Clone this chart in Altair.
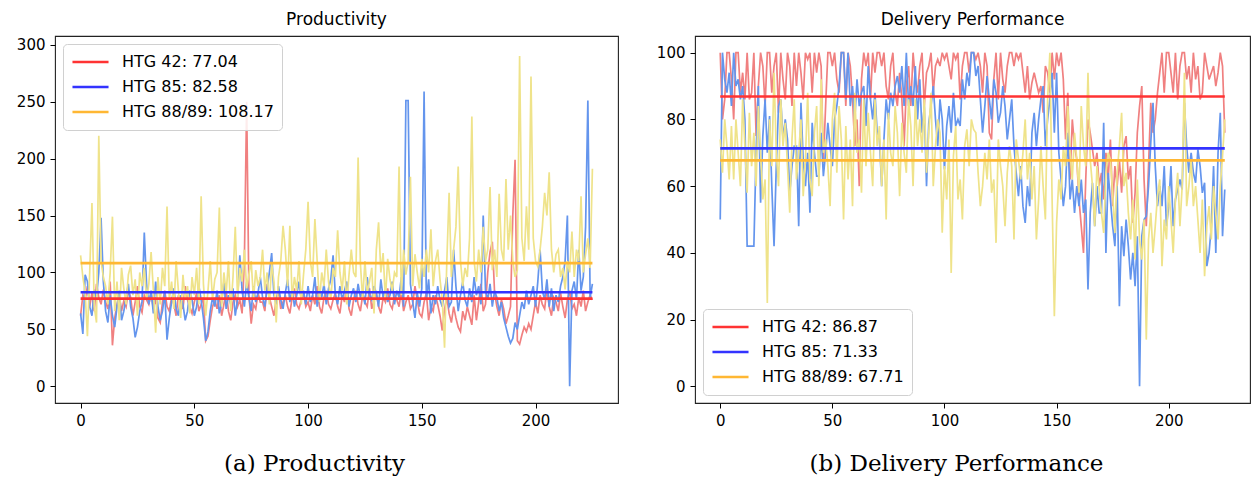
import altair as alt
import pandas as pd

# ---------------- data ----------------
x_ticks = [0, 50, 100, 150, 200]
prod_ticks = [0, 50, 100, 150, 200, 250, 300]
deliv_ticks = [0, 20, 40, 60, 80, 100]

series_names = ["HTG 42", "HTG 85", "HTG 88/89"]
prod_means = [77.04, 82.58, 108.17]
deliv_means = [86.87, 71.33, 67.71]

prod_htg42 = [
    62, 80, 76, 88, 70, 82, 66, 90, 78, 72,
    85, 74, 68, 92, 36, 60, 72, 80, 66, 75,
    70, 84, 78, 62, 74, 88, 70, 65, 80, 76,
    72, 82, 68, 78, 60, 56, 74, 84, 70, 66,
    78, 72, 62, 80, 74, 68, 88, 76, 70, 64,
    74, 82, 66, 72, 78, 40, 44, 58, 70, 76,
    68, 80, 62, 72, 84, 66, 58, 74, 80, 70,
    76, 64, 110, 250, 80, 55, 72, 68, 82, 74,
    74, 66, 90, 78, 70, 62, 76, 84, 68, 74,
    80, 70, 64, 78, 86, 72, 68, 76, 82, 70,
    74, 66, 80, 72, 88, 70, 64, 78, 84, 72,
    68, 76, 82, 70, 64, 80, 74, 90, 68, 62,
    76, 84, 72, 66, 80, 74, 70, 86, 68, 76,
    82, 70, 64, 78, 74, 86, 72, 68, 80, 76,
    70, 84, 66, 74, 80, 68, 72, 88, 76, 64,
    61, 74, 82, 58, 70, 66, 80, 72, 62, 49,
    68, 78, 64, 56, 70, 60, 52, 48, 66, 58,
    70, 62, 54, 80, 58, 74, 90, 66, 72, 100,
    118, 127, 82, 70, 62, 76, 68, 55, 62, 70,
    150, 199, 40, 37, 45, 52, 48, 55, 50, 62,
    74, 64, 80, 72, 68, 86, 70, 62, 78, 74,
    66, 82, 70, 60, 76, 84, 68, 72, 62, 78,
    70, 84, 66, 74, 80, 76,
]
prod_htg85 = [
    64, 46, 98, 92, 70, 62, 85, 78, 100, 148,
    92, 66, 56, 80, 62, 52, 70, 84, 58, 66,
    78, 90, 70, 60, 43, 52, 66, 74, 135, 90,
    72, 84, 64, 92, 70, 58, 66, 82, 41, 60,
    74, 86, 68, 62, 80, 72, 58, 66, 84, 76,
    62, 70, 88, 76, 60, 40, 48, 66, 78, 70,
    84, 64, 74, 92, 68, 80, 72, 86, 62, 76,
    115, 84, 70, 92, 78, 66, 88, 74, 82, 96,
    78, 70, 86, 100, 117, 80, 72, 88, 76, 68,
    82, 94, 74, 86, 70, 80, 92, 76, 84, 72,
    88, 74, 80, 96, 70, 84, 78, 90, 72, 86,
    94, 115, 80, 72, 88, 76, 84, 92, 70, 80,
    86, 74, 90, 78, 84, 72, 96, 80, 76, 88,
    82, 70, 94, 78, 86, 74, 80, 92, 72, 84,
    78, 96, 70, 251, 251, 90, 74, 60, 82, 70,
    86, 259, 76, 94, 64, 80, 72, 88, 76, 70,
    84, 96, 70, 74, 120, 88, 66, 80, 92, 76,
    70, 86, 74, 96, 80, 88, 72, 150, 84, 76,
    90, 70, 84, 78, 66, 74, 60, 52, 44, 38,
    42, 56, 50, 62, 74, 68, 84, 72, 80, 88,
    70, 92, 120, 84, 76, 94, 70, 86, 66, 80,
    74, 88, 96, 110, 150, 0, 84, 92, 76, 120,
    84, 96, 140, 251, 78, 90,
]
prod_htg88 = [
    115, 96, 82, 44, 100, 161, 70, 56, 220, 110,
    96, 88, 72, 100, 149, 66, 92, 58, 104, 86,
    72, 98, 106, 80, 94, 62, 100, 88, 104, 76,
    90, 118, 84, 47, 96, 72, 104, 88, 158, 76,
    92, 68, 110, 84, 60, 98, 76, 88, 64, 96,
    80, 104, 72, 167, 90, 62, 84, 110, 76, 94,
    100, 157, 70, 100, 82, 110, 66, 96, 140, 78,
    104, 92, 120, 86, 98, 110, 76, 102, 88, 96,
    120, 84, 100, 72, 108, 92, 56, 96, 110, 141,
    120, 88, 141, 76, 96, 84, 110, 72, 98, 120,
    162, 110, 96, 147, 110, 74, 100, 88, 120, 92,
    76, 104, 96, 137, 100, 84, 110, 72, 98, 120,
    100, 96, 201, 108, 76, 110, 82, 92, 104, 64,
    120, 144, 100, 117, 76, 112, 94, 84, 100, 96,
    193, 80, 120, 98, 110, 184, 88, 116, 100, 86,
    112, 96, 120, 100, 138, 88, 110, 120, 94, 76,
    34, 110, 170, 96, 120, 140, 193, 110, 88, 104,
    96, 130, 237, 110, 92, 120, 100, 140, 110, 120,
    175, 102, 120, 96, 169, 120, 110, 182, 120, 150,
    110, 96, 102, 290, 130, 110, 158, 120, 272, 130,
    110, 105, 120, 140, 170, 150, 188, 120, 100, 116,
    120, 96, 104, 85, 110, 100, 136, 96, 120, 110,
    167, 100, 116, 130, 104, 191,
]

deliv_htg42 = [
    100, 80, 86, 100, 100, 92, 80, 100, 100, 88,
    94, 86, 100, 86, 88, 100, 75, 90, 100, 96,
    84, 100, 100, 88, 96, 100, 82, 100, 92, 86,
    100, 96, 84, 100, 90, 100, 94, 86, 100, 98,
    100, 88, 100, 94, 100, 96, 67, 84, 100, 100,
    96, 100, 92, 88, 100, 100, 84, 100, 96, 86,
    72, 80, 60, 92, 100, 96, 100, 86, 100, 94,
    100, 100, 96, 100, 90, 86, 96, 100, 88, 84,
    94, 86, 72, 90, 96, 84, 100, 92, 88, 96,
    100, 84, 94, 96, 100, 88, 96, 98, 96, 100,
    98, 100, 96, 92, 100, 98, 100, 86, 96, 100,
    100, 94, 100, 100, 98, 100, 96, 88, 100, 96,
    76, 74, 92, 100, 86, 100, 92, 88, 96, 100,
    100, 96, 100, 98, 100, 94, 88, 96, 86, 91,
    94, 91, 88, 90, 82, 96, 94, 88, 100, 92,
    100, 96, 100, 92, 74, 88, 62, 80, 72, 68,
    56, 48, 40, 62, 80, 76, 71, 66, 70, 60,
    64, 56, 70, 62, 74, 54, 66, 60, 68, 58,
    72, 75, 62, 66, 49, 58, 76, 84, 90, 62,
    48, 66, 85, 76, 80, 88, 94, 100, 88, 100,
    100, 94, 88, 100, 86, 96, 100, 100, 92, 96,
    88, 100, 92, 96, 86, 88, 100, 96, 92, 94,
    96, 90, 94, 100, 96, 76,
]
deliv_htg85 = [
    50, 100, 92, 88, 94, 84, 100, 90, 92, 86,
    90, 80, 42, 42, 42, 42, 70, 90, 55, 75,
    86, 70, 81, 60, 42, 66, 84, 86, 74, 80,
    74, 58, 66, 72, 72, 48, 85, 68, 60, 70,
    52, 79, 70, 63, 63, 76, 63, 70, 79, 72,
    66, 80, 84, 90, 100, 100, 86, 100, 84, 90,
    80, 92, 84, 88, 90, 78, 96, 86, 80, 88,
    76, 74, 60, 74, 86, 80, 88, 84, 90, 93,
    88, 96, 84, 100, 84, 90, 84, 96, 80, 92,
    76, 84, 60, 79, 84, 90, 80, 72, 86, 80,
    65, 78, 84, 76, 88, 78, 80, 78, 92, 86,
    94, 90, 100, 100, 93, 96, 86, 76, 84, 93,
    86, 80, 92, 88, 79, 82, 90, 84, 74, 80,
    86, 72, 64, 57, 66, 54, 49, 60, 54, 76,
    82, 72, 80, 86, 90, 72, 80, 86, 94, 76,
    94, 70, 62, 54, 60, 76, 56, 62, 52, 60,
    54, 62, 52, 56, 29, 52, 61, 48, 60, 52,
    52, 79, 40, 64, 56, 48, 42, 60, 24, 48,
    39, 50, 42, 32, 40, 30, 45, 0, 45, 50,
    51, 60, 73, 85, 66, 54, 60, 54, 66, 48,
    54, 66, 48, 56, 59, 62, 59, 85, 72, 64,
    70, 64, 61, 71, 66, 58, 61, 36, 40, 48,
    66, 40, 70, 82, 45, 59,
]
deliv_htg88 = [
    74, 64, 80, 72, 62, 78, 62, 80, 70, 60,
    86, 72, 58, 82, 66, 76, 60, 84, 70, 56,
    62, 25, 80, 66, 94, 70, 60, 86, 72, 79,
    66, 52, 74, 86, 62, 70, 80, 57, 68, 88,
    62, 57, 76, 84, 60, 92, 70, 74, 66, 54,
    80, 88, 64, 84, 74, 50, 78, 62, 74, 54,
    88, 70, 74, 58, 86, 66, 82, 70, 60, 86,
    72, 78, 60, 74, 50, 82, 70, 66, 84, 76,
    57, 79, 70, 64, 86, 78, 60, 86, 72, 80,
    70, 86, 64, 76, 88, 60, 72, 80, 76, 46,
    66, 56, 74, 34, 69, 78, 56, 62, 50, 72,
    77, 66, 80, 77, 76, 64, 54, 60, 70, 62,
    74, 58, 62, 43, 74, 66, 60, 48, 64, 72,
    66, 44, 74, 68, 62, 70, 80, 62, 70, 56,
    66, 44, 56, 72, 60, 50, 86, 100, 56, 21,
    49, 62, 56, 72, 66, 84, 70, 62, 76, 68,
    58, 84, 72, 66, 94, 68, 60, 48, 66, 59,
    52, 46, 64, 70, 68, 58, 46, 64, 72, 82,
    60, 64, 52, 44, 56, 38, 62, 44, 38, 50,
    14, 44, 52, 40, 48, 57, 62, 36, 50, 44,
    60, 50, 40, 56, 64, 48, 60, 94, 54, 60,
    68, 54, 60, 50, 40, 56, 33, 48, 54, 44,
    60, 52, 44, 60, 69, 80,
]

# ---------------- styling ----------------
LIGHT = ["#f08080", "#6495ed", "#efe38a"]
MEAN = ["#ff3333", "#3333ff", "#ffb733"]
FONT = "DejaVu Sans"
SERIF = "DejaVu Serif"


def panel(series, means, title, caption, y_domain, y_ticks, legend_orient,
          width, caption_x):
    n = len(series[0])
    x_dom = [-0.05 * (n - 1), (n - 1) * 1.05]

    def xenc(field):
        return alt.X(
            field, type="quantitative",
            scale=alt.Scale(domain=x_dom, nice=False, zero=False),
            axis=alt.Axis(values=x_ticks, title=caption, titleFont=SERIF,
                          titleFontSize=23, titleFontWeight="normal",
                          titleColor="#000", titlePadding=24,
                          titleX=caption_x),
        )

    yenc = alt.Y(
        "y:Q",
        scale=alt.Scale(domain=y_domain, nice=False, zero=False),
        axis=alt.Axis(values=y_ticks, title=None),
    )

    layers = []
    for vals, col in zip(series, LIGHT):
        df = pd.DataFrame({"x": list(range(len(vals))), "y": vals})
        layers.append(
            alt.Chart(df).mark_line(color=col, strokeWidth=1.7).encode(
                x=xenc("x"), y=yenc)
        )

    labels = [f"{nm}: {m:.2f}" for nm, m in zip(series_names, means)]
    mdf = pd.DataFrame({
        "label": labels,
        "y": means,
        "x0": [0] * 3,
        "x1": [n - 1] * 3,
    })
    mean_layer = alt.Chart(mdf).mark_rule(strokeWidth=2.6).encode(
        x=xenc("x0"),
        x2="x1:Q",
        y=yenc,
        color=alt.Color(
            "label:N",
            scale=alt.Scale(domain=labels, range=MEAN),
            legend=alt.Legend(
                title=None, orient=legend_orient, offset=8,
                fillColor="rgba(255,255,255,0.85)", strokeColor="#d0d0d0",
                cornerRadius=4, padding=8, symbolType="stroke",
                symbolSize=1300, symbolStrokeWidth=2.6, labelFont=FONT,
                labelFontSize=16, labelColor="#000", clipHeight=20,
                rowPadding=5, labelOffset=12, labelLimit=400,
            ),
        ),
    )
    layers.append(mean_layer)

    return alt.layer(*layers).properties(
        width=width,
        height=367,
        title=alt.TitleParams(title, font=FONT, fontSize=17,
                              fontWeight="normal", color="#000", offset=7),
    )


left = panel([prod_htg42, prod_htg85, prod_htg88], prod_means,
             "Productivity", "(a) Productivity", [-14.65, 307.65],
             prod_ticks, "top-left", 563, 259)
right = panel([deliv_htg42, deliv_htg85, deliv_htg88], deliv_means,
              "Delivery Performance", "(b) Delivery Performance", [-5, 105],
              deliv_ticks, "bottom-left", 555, 261)

chart = (
    alt.hconcat(left, right, spacing=36)
    .resolve_scale(color="independent")
    .properties(padding={"left": 15, "top": 10, "right": 0, "bottom": 0},
                background="white")
    .configure_view(stroke="#222", strokeWidth=1.1)
    .configure_axis(labelFont=FONT, labelFontSize=15, labelColor="#000",
                    tickColor="#000", tickSize=5, labelPadding=5,
                    domain=False, grid=False)
)

chart.save("out.html", embed_options={"renderer": "svg", "actions": False})
